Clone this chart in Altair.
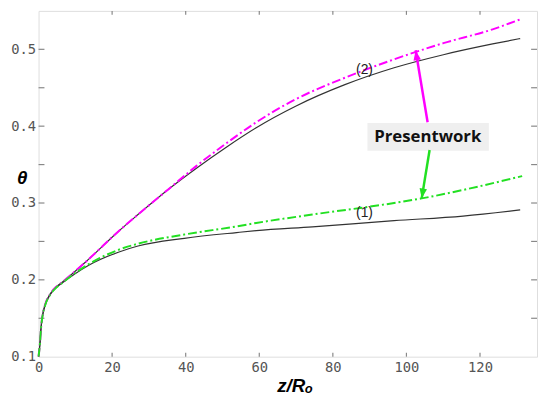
import altair as alt
import pandas as pd

# ---- data ----
# curve (2): present work (magenta) and reference (black)
x_m = [0, 0.40, 0.67, 1.07, 1.87, 3.21, 4.82, 6.43, 13.65, 21.69, 27.04, 35.07, 43.11, 51.14, 59.17, 69.88, 83.27, 96.65, 110.04, 123.43, 131.46]
y_m = [0.100, 0.118, 0.137, 0.153, 0.169, 0.182, 0.191, 0.197, 0.227, 0.263, 0.285, 0.317, 0.349, 0.378, 0.405, 0.435, 0.463, 0.487, 0.508, 0.526, 0.540]
x_k2 = [0, 0.40, 0.67, 1.07, 1.87, 3.21, 4.82, 6.43, 13.65, 21.69, 27.04, 35.07, 43.11, 51.14, 59.17, 69.88, 83.27, 96.65, 110.04, 123.43, 130.92]
y_k2 = [0.100, 0.118, 0.137, 0.153, 0.169, 0.182, 0.191, 0.197, 0.227, 0.263, 0.285, 0.317, 0.346, 0.373, 0.398, 0.426, 0.454, 0.476, 0.493, 0.507, 0.514]
# curve (1): present work (green) and reference (black)
x_g = [0, 0.40, 0.67, 1.07, 1.87, 3.21, 4.82, 6.43, 9.64, 13.65, 21.69, 27.04, 39.63, 53.82, 59.17, 74.43, 96.65, 104.15, 115.39, 131.46]
y_g = [0.100, 0.118, 0.137, 0.1526, 0.168, 0.181, 0.190, 0.196, 0.208, 0.2205, 0.239, 0.247, 0.259, 0.2695, 0.274, 0.285, 0.300, 0.306, 0.317, 0.335]
x_k1 = [0, 0.40, 0.67, 1.07, 1.87, 3.21, 4.82, 6.43, 9.64, 13.65, 21.69, 27.04, 39.63, 53.82, 59.17, 74.43, 96.65, 115.39, 130.92]
y_k1 = [0.100, 0.118, 0.137, 0.1526, 0.168, 0.181, 0.190, 0.196, 0.207, 0.219, 0.236, 0.244, 0.254, 0.2615, 0.264, 0.269, 0.277, 0.283, 0.291]

# axis ticks
x_labels = [0, 20, 40, 60, 80, 100, 120]
x_ticks = [20, 40, 60, 80, 100, 120]
y_labels = [0.1, 0.2, 0.3, 0.4, 0.5]
y_ticks = [0.15, 0.2, 0.25, 0.3, 0.35, 0.4, 0.45, 0.5]

# annotations
curve_labels = ["(2)", "(1)"]
curve_label_x = [88.6, 88.6]
curve_label_y = [0.473, 0.287]
note_text = ["Presentwork"]
note_box_x = [89.4]
note_box_x2 = [122.4]
note_box_y = [0.368]
note_box_y2 = [0.404]
note_x = [105.8]
note_y = [0.386]
arrow_m_x = [105.76, 102.5]
arrow_m_y = [0.405, 0.4987]
arrow_g_x = [106.3, 104.15]
arrow_g_y = [0.369, 0.306]

W, H = 506, 351
xscale = alt.Scale(domain=[0, 135.5], nice=False, zero=False)
yscale = alt.Scale(domain=[0.1, 0.55], nice=False, zero=False)

xaxis = alt.Axis(values=x_labels, ticks=False, domain=False, grid=False,
                 labelFont="DejaVu Sans Mono", labelFontSize=14, labelColor="#555",
                 labelPadding=4, labelFlush=False, labelOverlap=False,
                 title="z/Rₒ", titleFont="Liberation Sans", titleFontSize=19,
                 titleFontWeight="bold", titleFontStyle="italic", titleColor="#000",
                 titleX=260, titleY=35, titleBaseline="alphabetic", titleAlign="center")
yaxis = alt.Axis(values=y_labels, format=".1f", ticks=False, domain=False, grid=False,
                 labelFont="DejaVu Sans Mono", labelFontSize=14, labelColor="#555",
                 labelPadding=3, labelFlush=False, labelOverlap=False,
                 title="θ", titleFont="Liberation Sans", titleFontSize=19,
                 titleFontWeight="bold", titleFontStyle="italic", titleColor="#000",
                 titleAngle=0, titleX=-17, titleY=169, titleAlign="center", titleBaseline="middle")

X = lambda f="z": alt.X(f"{f}:Q", scale=xscale, axis=xaxis)
Y = lambda f="t": alt.Y(f"{f}:Q", scale=yscale, axis=yaxis)


def line(xs, ys, **kw):
    df = pd.DataFrame({"z": xs, "t": ys})
    return alt.Chart(df).mark_line(**kw).encode(x=X(), y=Y())


k2 = line(x_k2, y_k2, color="#333", strokeWidth=1.2, interpolate="monotone")
k1 = line(x_k1, y_k1, color="#333", strokeWidth=1.2, interpolate="monotone")
mg = line(x_m, y_m, color="#ff00ff", strokeWidth=2, strokeDash=[9, 3, 2, 3], interpolate="monotone")
gr = line(x_g, y_g, color="#22e022", strokeWidth=2, strokeDash=[9, 3, 2, 3], interpolate="monotone")

tick_col = "#888"
xt_df = pd.DataFrame({"z": x_ticks})
yt_df = pd.DataFrame({"t": y_ticks})
bt = alt.Chart(xt_df).mark_rule(color=tick_col, strokeWidth=1.2).encode(x=X(), y=alt.value(H), y2=alt.value(H - 4))
tt = alt.Chart(xt_df).mark_rule(color=tick_col, strokeWidth=1.2).encode(x=X(), y=alt.value(0), y2=alt.value(4))
lt = alt.Chart(yt_df).mark_rule(color=tick_col, strokeWidth=1.2).encode(y=Y(), x=alt.value(0), x2=alt.value(6))
rt = alt.Chart(yt_df).mark_rule(color=tick_col, strokeWidth=1.2).encode(y=Y(), x=alt.value(W), x2=alt.value(W - 6))

lab_df = pd.DataFrame({"z": curve_label_x, "t": curve_label_y, "s": curve_labels})
labs = alt.Chart(lab_df).mark_text(font="Liberation Sans", fontSize=14, color="#222").encode(x=X(), y=Y(), text="s:N")

box_df = pd.DataFrame({"z": note_box_x, "z2": note_box_x2, "t": note_box_y, "t2": note_box_y2})
box = alt.Chart(box_df).mark_rect(color="#efefef").encode(x=X(), x2="z2:Q", y=Y(), y2="t2:Q")
note_df = pd.DataFrame({"z": note_x, "t": note_y, "s": note_text})
note = alt.Chart(note_df).mark_text(font="Open Sans", fontSize=17, fontWeight="bold", color="#111").encode(x=X(), y=Y(), text="s:N")

am = line(arrow_m_x, arrow_m_y, color="#ff00ff", strokeWidth=2.5)
ag = line(arrow_g_x, arrow_g_y, color="#22e022", strokeWidth=2.5)
head_shape = "M0,0L-0.38,1L0.38,1Z"
hm = alt.Chart(pd.DataFrame({"z": arrow_m_x[1:], "t": arrow_m_y[1:]})).mark_point(
    shape=head_shape, filled=True, size=400, angle=350.7, color="#ff00ff", opacity=1).encode(x=X(), y=Y())
hg = alt.Chart(pd.DataFrame({"z": arrow_g_x[1:], "t": arrow_g_y[1:]})).mark_point(
    shape=head_shape, filled=True, size=400, angle=189.3, color="#22e022", opacity=1).encode(x=X(), y=Y())

chart = alt.layer(bt, tt, lt, rt, k2, k1, mg, gr, labs, box, note, am, ag, hm, hg).properties(
    width=W, height=H,
    autosize=alt.AutoSizeParams(type="none"),
    padding={"left": 31, "top": 0, "right": 2, "bottom": 40},
).configure_view(stroke="#888", strokeWidth=1.5).configure(background="white")

chart.save("out.html", embed_options={"renderer": "svg", "actions": False})
